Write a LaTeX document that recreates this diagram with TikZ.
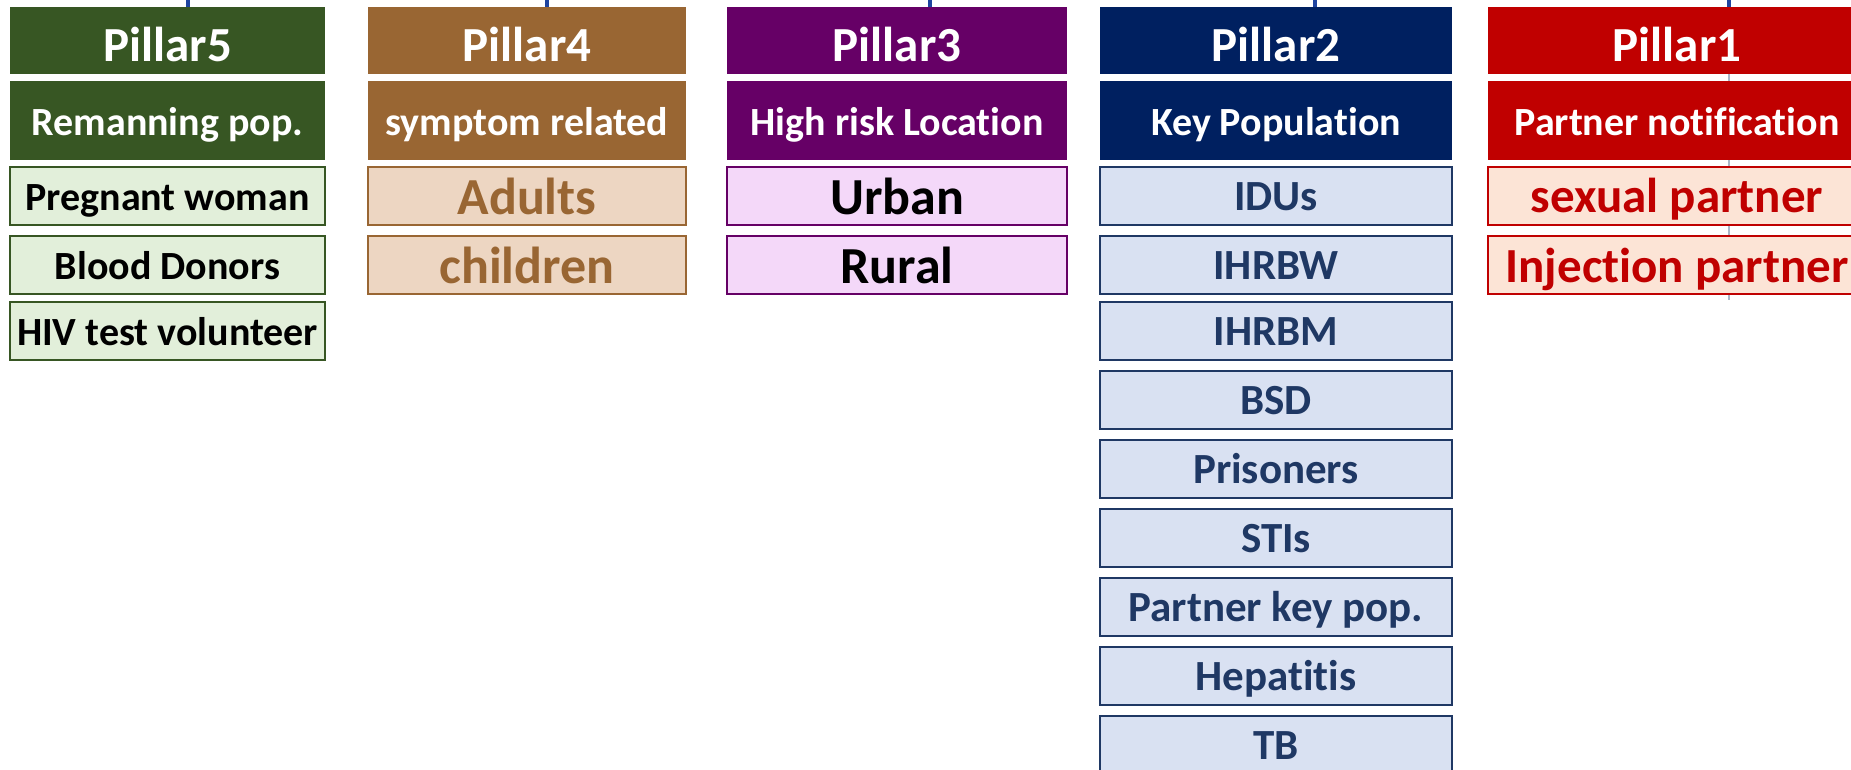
\documentclass[tikz,border=0pt]{standalone}
\usepackage{fontspec}
\setmainfont{Carlito}[Ligatures={NoCommon}]
\usepackage{tikz}

\definecolor{pfive}{HTML}{375623}
\definecolor{pfivelight}{HTML}{E2EFDA}
\definecolor{pfour}{HTML}{996633}
\definecolor{pfourlight}{HTML}{EDD6C2}
\definecolor{pthree}{HTML}{660066}
\definecolor{pthreelight}{HTML}{F4D8F9}
\definecolor{ptwo}{HTML}{002060}
\definecolor{ptwoline}{HTML}{1F3864}
\definecolor{ptwolight}{HTML}{D9E1F2}
\definecolor{pone}{HTML}{C00000}
\definecolor{ponelight}{HTML}{FCE4D6}
\definecolor{tickblue}{HTML}{1F44A0}
\definecolor{guidegray}{HTML}{A9B6C8}

\tikzset{
  pillar/.style={rectangle, inner sep=0pt, outer sep=0pt, minimum height=33.5pt,
    text=white, text depth=0pt, text height=20.8pt, font=\bfseries\fontsize{24.5}{28}\selectfont},
  group/.style={rectangle, inner sep=0pt, outer sep=0pt, minimum height=39.5pt,
    text=white, text depth=0pt, text height=15pt, font=\bfseries\fontsize{20}{24}\selectfont},
  item/.style={rectangle, draw, line width=1.2pt, inner sep=0pt, outer sep=0pt,
    minimum height=29pt, text depth=0pt},
  col5/.style={minimum width=157.5pt},
  col4/.style={minimum width=159pt},
  col3/.style={minimum width=170pt},
  col2/.style={minimum width=176pt},
  col1/.style={minimum width=189pt},
  itemfive/.style={item, col5, draw=pfive, fill=pfivelight, text=black,
    text height=14.4pt, font=\bfseries\fontsize{20}{24}\selectfont},
  itemfour/.style={item, col4, draw=pfour, fill=pfourlight, text=pfour,
    text height=18.5pt, font=\bfseries\fontsize{26}{30}\selectfont},
  itemthree/.style={item, col3, draw=pthree, fill=pthreelight, text=black,
    text height=18.5pt, font=\bfseries\fontsize{26}{30}\selectfont},
  itemtwo/.style={item, col2, line width=1.4pt, draw=ptwoline, fill=ptwolight, text=ptwoline,
    text height=14.3pt, font=\bfseries\fontsize{21.5}{25}\selectfont},
  itemone/.style={item, col1, draw=pone, fill=ponelight, text=pone,
    text height=17pt, font=\bfseries\fontsize{24.5}{28}\selectfont},
  tick/.style={draw=tickblue, line width=2pt},
  guide/.style={draw=guidegray, line width=0.6pt},
}

\begin{document}
\begin{tikzpicture}[x=0.5pt,y=-0.5pt]
  \useasboundingbox (0,0) rectangle (1851,770);
  \clip (0,0) rectangle (1851,770);

  % stubs of the tree above
  \coordinate (t5) at (188,0);
  \coordinate (t4) at (547,0);
  \coordinate (t3) at (930,0);
  \coordinate (t2) at (1315,0);
  \coordinate (t1) at (1729,0);
  \coordinate (e1) at (1729,300);
  \draw [guide] (t1) -- (e1);

  % Pillar5
  \node [pillar, col5, fill=pfive] (p5) at (167.5,40.5) {Pillar5};
  \node [group, col5, fill=pfive] (g5) at (167.5,120.5) {Remanning pop.};
  \node [itemfive] (i5a) at (167.5,196) {Pregnant woman};
  \node [itemfive] (i5b) at (167.5,265) {Blood Donors};
  \node [itemfive] (i5c) at (167.5,331) {HIV test volunteer};

  % Pillar4
  \node [pillar, col4, fill=pfour] (p4) at (527,40.5) {Pillar4};
  \node [group, col4, fill=pfour] (g4) at (527,120.5) {symptom related};
  \node [itemfour] (i4a) at (527,196) {Adults};
  \node [itemfour] (i4b) at (527,265) {children};

  % Pillar3
  \node [pillar, col3, fill=pthree] (p3) at (897,40.5) {Pillar3};
  \node [group, col3, fill=pthree] (g3) at (897,120.5) {High risk Location};
  \node [itemthree] (i3a) at (897,196) {Urban};
  \node [itemthree] (i3b) at (897,265) {Rural};

  % Pillar2
  \node [pillar, col2, fill=ptwo] (p2) at (1276,40.5) {Pillar2};
  \node [group, col2, fill=ptwo] (g2) at (1276,120.5) {Key Population};
  \node [itemtwo] (i2a) at (1276,196) {IDUs};
  \node [itemtwo] (i2b) at (1276,265) {IHRBW};
  \node [itemtwo] (i2c) at (1276,331) {IHRBM};
  \node [itemtwo] (i2d) at (1276,400) {BSD};
  \node [itemtwo] (i2e) at (1276,469) {Prisoners};
  \node [itemtwo] (i2f) at (1276,538) {STIs};
  \node [itemtwo] (i2g) at (1276,607) {Partner key pop.};
  \node [itemtwo] (i2h) at (1276,676) {Hepatitis};
  \node [itemtwo] (i2i) at (1276,745) {TB};

  % Pillar1
  \node [pillar, col1, fill=pone] (p1) at (1677,40.5) {Pillar1};
  \node [group, col1, fill=pone] (g1) at (1677,120.5) {Partner notification};
  \node [itemone] (i1a) at (1677,196) {sexual partner};
  \node [itemone] (i1b) at (1677,265) {Injection partner};

  \draw [tick] (t5) -- (t5 |- p5.north);
  \draw [tick] (t4) -- (t4 |- p4.north);
  \draw [tick] (t3) -- (t3 |- p3.north);
  \draw [tick] (t2) -- (t2 |- p2.north);
  \draw [tick] (t1) -- (t1 |- p1.north);
\end{tikzpicture}
\end{document}
